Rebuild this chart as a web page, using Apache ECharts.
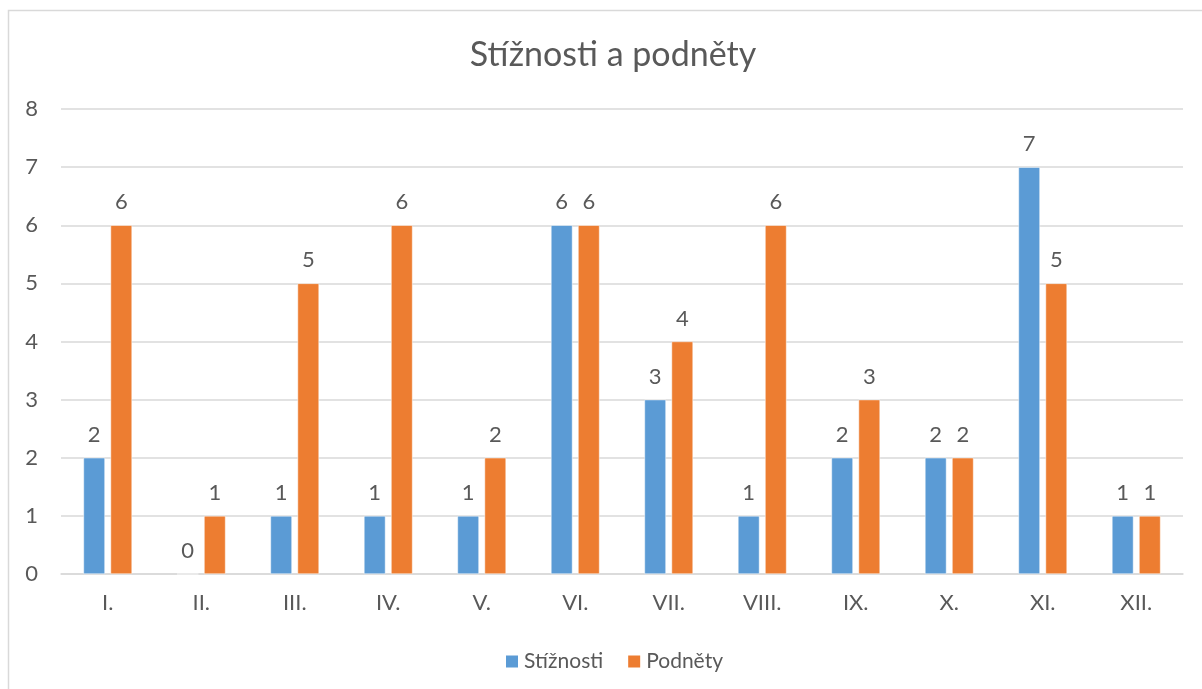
<!DOCTYPE html>
<html lang="cs">
<head>
    <meta charset="UTF-8">
    <title>Stížnosti a podněty</title>
    <style>
        html, body { margin: 0; padding: 0; background: #fff; }
        #main { width: 1202px; height: 689px; }
    </style>
</head>
<body>
<div id="main"></div>
<script src="https://cdn.jsdelivr.net/npm/echarts@6/dist/echarts.min.js"></script>
<script>
    const months = ['I.', 'II.', 'III.', 'IV.', 'V.', 'VI.', 'VII.', 'VIII.', 'IX.', 'X.', 'XI.', 'XII.'];
    const stiznosti = [2, 0, 1, 1, 1, 6, 3, 1, 2, 2, 7, 1];
    const podnety = [6, 1, 5, 6, 2, 6, 4, 6, 3, 2, 5, 1];
    const yTicks = [0, 8, 1]; // min, max, interval

    const textColor = '#595959';
    const font = 'Lato, "Open Sans", sans-serif';

    const myChart = echarts.init(document.getElementById('main'));

    // popisky nad sloupci
    const label = {
        show: true,
        position: 'top',
        distance: 12,
        color: textColor,
        fontFamily: font,
        fontSize: 22
    };

    const option = {
        backgroundColor: '#fff',
        animation: false,
        textStyle: { fontFamily: font },
        graphic: [{
            type: 'rect',
            shape: { x: 8.5, y: 10.5, width: 1300, height: 800 },
            style: { fill: null, stroke: '#d9d9d9', lineWidth: 1.5 },
            silent: true
        }],
        title: {
            text: 'Stížnosti a podněty',
            left: 608,
            textAlign: 'center',
            top: 33,
            textStyle: {
                color: textColor,
                fontFamily: font,
                fontWeight: 'normal',
                fontSize: 34
            }
        },
        legend: {
            left: 499,
            top: 646,
            itemWidth: 14,
            itemHeight: 14,
            itemGap: 23,
            icon: 'rect',
            textStyle: { color: textColor, fontFamily: font, fontSize: 21, padding: [2, 0, 0, 0] }
        },
        grid: {
            left: 61,
            right: 19,
            top: 109,
            bottom: 115,
            containLabel: false
        },
        xAxis: {
            type: 'category',
            data: months,
            axisTick: { show: false },
            axisLine: { lineStyle: { color: '#d9d9d9', width: 1.5 } },
            axisLabel: {
                color: textColor,
                fontFamily: font,
                fontSize: 22,
                margin: 18
            }
        },
        yAxis: {
            type: 'value',
            min: yTicks[0],
            max: yTicks[1],
            interval: yTicks[2],
            axisLine: { show: false },
            axisTick: { show: false },
            splitLine: { lineStyle: { color: '#d9d9d9', width: 1.5 } },
            axisLabel: {
                color: textColor,
                fontFamily: font,
                fontSize: 22,
                margin: 23
            }
        },
        series: [
            {
                name: 'Stížnosti',
                type: 'bar',
                data: stiznosti,
                barWidth: 21.5,
                barGap: '26%',
                itemStyle: { color: '#5B9BD5', borderColor: '#fff', borderWidth: 0.5 },
                label: label
            },
            {
                name: 'Podněty',
                type: 'bar',
                data: podnety,
                barWidth: 21.5,
                itemStyle: { color: '#ED7D31', borderColor: '#fff', borderWidth: 0.5 },
                label: label
            }
        ]
    };

    myChart.setOption(option);
</script>
</body>
</html>
